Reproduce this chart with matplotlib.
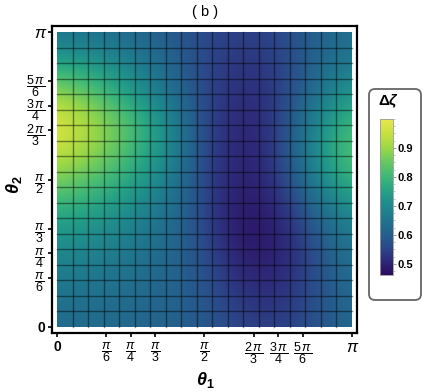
import numpy as np
import matplotlib
import matplotlib.pyplot as plt
from matplotlib.colors import LinearSegmentedColormap
from matplotlib.patches import FancyBboxPatch, Rectangle
from matplotlib.transforms import IdentityTransform

plt.rcParams['font.family'] = ['Liberation Sans', 'DejaVu Sans']
plt.rcParams['mathtext.fontset'] = 'custom'
plt.rcParams['mathtext.rm'] = 'Liberation Sans'
plt.rcParams['mathtext.it'] = 'Liberation Sans:italic'
plt.rcParams['mathtext.bf'] = 'Liberation Sans:bold'
plt.rcParams['mathtext.bfit'] = 'Liberation Sans:italic:bold'

# grid nodes: theta1 (columns) and theta2 (rows) at multiples of pi/10
theta1 = np.linspace(0, np.pi, 11)
theta2 = np.linspace(0, np.pi, 11)

# Delta zeta, rows from theta2 = 0 (bottom) to theta2 = pi (top)
dzeta = [
    [0.630, 0.630, 0.625, 0.615, 0.605, 0.590, 0.555, 0.540, 0.550, 0.585, 0.620],
    [0.645, 0.640, 0.635, 0.625, 0.605, 0.585, 0.535, 0.520, 0.535, 0.580, 0.625],
    [0.675, 0.670, 0.655, 0.635, 0.610, 0.575, 0.510, 0.495, 0.520, 0.580, 0.640],
    [0.715, 0.705, 0.685, 0.655, 0.615, 0.560, 0.490, 0.480, 0.515, 0.595, 0.665],
    [0.780, 0.760, 0.725, 0.685, 0.630, 0.550, 0.490, 0.485, 0.540, 0.640, 0.715],
    [0.870, 0.835, 0.790, 0.730, 0.655, 0.550, 0.500, 0.500, 0.580, 0.705, 0.795],
    [0.955, 0.910, 0.850, 0.770, 0.685, 0.555, 0.505, 0.505, 0.600, 0.745, 0.835],
    [0.985, 0.925, 0.860, 0.780, 0.675, 0.555, 0.510, 0.510, 0.590, 0.715, 0.800],
    [0.890, 0.840, 0.775, 0.700, 0.625, 0.555, 0.520, 0.520, 0.570, 0.660, 0.730],
    [0.750, 0.730, 0.700, 0.655, 0.605, 0.555, 0.530, 0.530, 0.565, 0.620, 0.665],
    [0.645, 0.640, 0.630, 0.610, 0.585, 0.560, 0.545, 0.545, 0.575, 0.610, 0.640],
]
zmin, zmax = 0.462, 1.0

# viridis-like palette as in the reference legend
cmap = LinearSegmentedColormap.from_list('vir', [
    '#2b0b5d', '#2e2a7a', '#2b4a8a', '#24638d', '#1f778e', '#1f8c8c',
    '#26a385', '#40b877', '#68c960', '#9bd846', '#c8e040', '#e8e64f'])

tick_vals = [0, np.pi / 6, np.pi / 4, np.pi / 3, np.pi / 2,
             2 * np.pi / 3, 3 * np.pi / 4, 5 * np.pi / 6, np.pi]
tick_text = ['0', r'$\dfrac{\pi}{6}$', r'$\dfrac{\pi}{4}$', r'$\dfrac{\pi}{3}$',
             r'$\dfrac{\pi}{2}$', r'$\dfrac{2\,\pi}{3}$', r'$\dfrac{3\,\pi}{4}$',
             r'$\dfrac{5\,\pi}{6}$', 'π']

fig = plt.figure(figsize=(4.22, 3.92), dpi=100)
ax = fig.add_axes([52 / 422, 1 - 333 / 392, 305 / 422, 307 / 392])

d1 = (theta1[1] - theta1[0]) / 2
d2 = (theta2[1] - theta2[0]) / 2
im = ax.imshow(np.array(dzeta), origin='lower', cmap=cmap, vmin=zmin, vmax=zmax,
               interpolation='bicubic', aspect='auto',
               extent=(theta1[0] - d1, theta1[-1] + d1, theta2[0] - d2, theta2[-1] + d2))
clip = Rectangle((0, 0), np.pi, np.pi, transform=ax.transData, facecolor='none')
im.set_clip_path(clip)

# mesh lines
nmesh = 19
for k in range(1, nmesh):
    v = k * np.pi / nmesh
    ax.plot([v, v], [0, np.pi], color='black', lw=1.0, alpha=0.45)
    ax.plot([0, np.pi], [v, v], color='black', lw=1.0, alpha=0.45)

padx = 5 * np.pi / 295
pady = 6 * np.pi / 295
ax.set_xlim(-padx, np.pi + padx)
ax.set_ylim(-pady, np.pi + pady)

for s in ax.spines.values():
    s.set_linewidth(1.6)
ax.tick_params(direction='out', length=3, width=1.2, labelsize=9, pad=2)
ax.set_xticks(tick_vals)
ax.set_xticklabels(tick_text)
ax.set_yticks(tick_vals)
ax.set_yticklabels(tick_text)
for lbl in ax.get_xticklabels() + ax.get_yticklabels():
    if lbl.get_text() == '0':
        lbl.set_fontsize(10)
        lbl.set_fontweight('bold')
    if lbl.get_text() == 'π':
        lbl.set_fontsize(12)
        lbl.set_fontstyle('italic')

ax.set_xlabel(r'$\mathbfit{\theta}_\mathbf{1}$', fontsize=13)
ax.xaxis.set_label_coords((205 - 52) / 305, (333 - 380) / 307)
ax.xaxis.label.set_va('center')
ax.set_ylabel(r'$\mathbfit{\theta}_\mathbf{2}$', fontsize=13)
ax.yaxis.set_label_coords((14 - 52) / 305, (333 - 185) / 307)
ax.yaxis.label.set_va('center')
fig.text(205 / 422, 1 - 12 / 392, '( b )', ha='center', va='center', fontsize=10.5)

# colour bar in a rounded box
box = FancyBboxPatch((369, 392 - 300), 52, 211, boxstyle='round,pad=0,rounding_size=6',
                     transform=IdentityTransform(), facecolor='white',
                     edgecolor='#666666', lw=1.3, zorder=-1)
fig.patches.append(box)
fig.text(389 / 422, 1 - 101 / 392, r'$\mathbf{\Delta}\mathbfit{\zeta}$',
         ha='center', va='center', fontsize=11)
cax = fig.add_axes([380 / 422, 1 - 275 / 392, 13 / 422, 156 / 392])
cb = fig.colorbar(im, cax=cax)
cb.set_ticks([0.5, 0.6, 0.7, 0.8, 0.9])
cb.ax.yaxis.set_minor_locator(matplotlib.ticker.MultipleLocator(0.025))
cb.ax.tick_params(which='major', length=2, width=0.6, labelsize=8, pad=1, color='#888888')
cb.ax.tick_params(which='minor', length=1.5, width=0.5, color='#aaaaaa')
for lbl in cb.ax.get_yticklabels():
    lbl.set_fontweight('bold')
cb.outline.set_edgecolor('#999999')
cb.outline.set_linewidth(0.6)

fig.savefig('out.png', dpi=100)
